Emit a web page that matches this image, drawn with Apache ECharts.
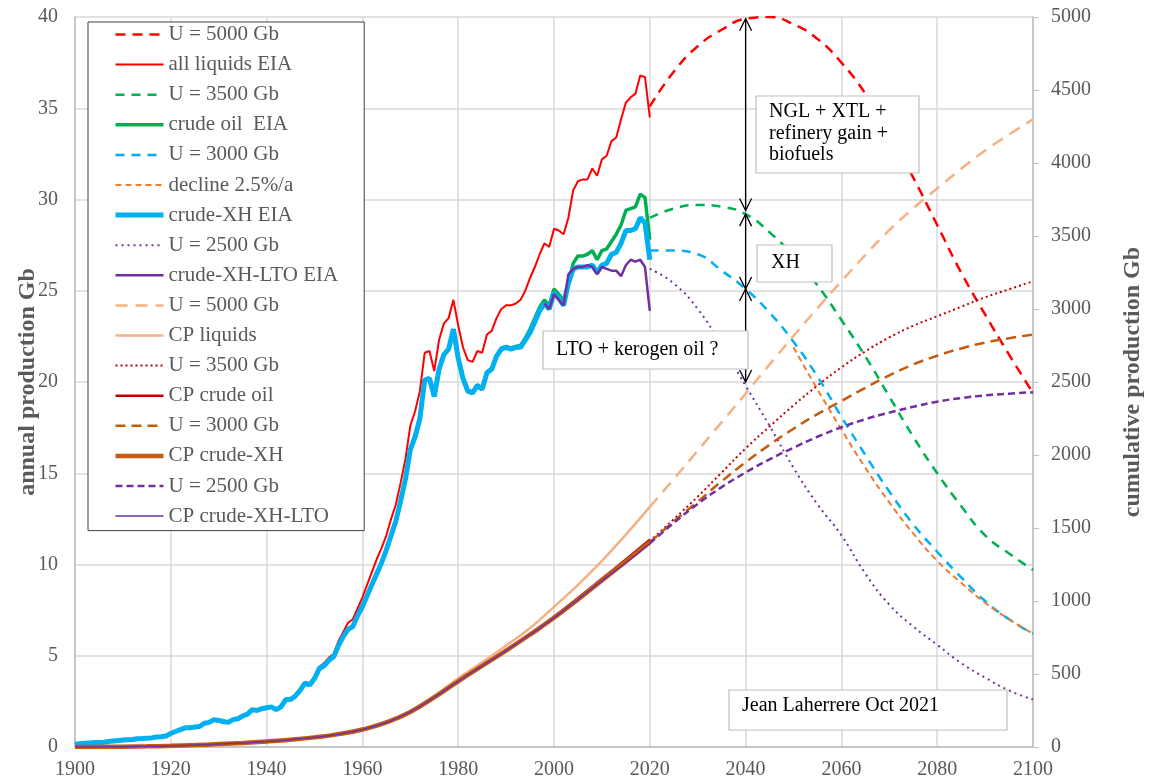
<!DOCTYPE html>
<html>
<head>
<meta charset="utf-8">
<script src="https://cdn.jsdelivr.net/npm/echarts@6/dist/echarts.min.js"></script>
<style>
  html, body { margin: 0; padding: 0; background: #ffffff; }
  #chart { width: 1153px; height: 780px; }
</style>
</head>
<body>
<div id="chart"></div>
<script>
// axis ticks
var xTicks = [1900, 2100, 20];
var leftTicks = [0, 40, 5];
var rightTicks = [0, 5000, 500];

// annual production (Gb), one value a year from 1900 to 2020
var allLiquids = [
  0.15, 0.18, 0.2, 0.22, 0.24, 0.25, 0.26, 0.3, 0.33, 0.35,
  0.38, 0.4, 0.41, 0.45, 0.46, 0.48, 0.5, 0.55, 0.56, 0.6,
  0.75, 0.85, 0.95, 1.05, 1.05, 1.1, 1.12, 1.3, 1.35, 1.5,
  1.45, 1.4, 1.35, 1.5, 1.55, 1.7, 1.8, 2.05, 2.0, 2.1,
  2.15, 2.2, 2.05, 2.2, 2.6, 2.6, 2.8, 3.1, 3.55, 3.45,
  3.85, 4.4, 4.6, 4.9, 5.1, 5.8, 6.3, 6.8, 7.0, 7.6,
  8.2, 8.9, 9.6, 10.3, 10.9, 11.6, 12.5, 13.3, 14.5, 15.8,
  17.6, 18.4, 19.5, 21.6, 21.7, 20.6, 22.3, 23.2, 23.5, 24.5,
  23.1, 21.9, 21.2, 21.1, 21.7, 21.6, 22.6, 22.8, 23.5, 24.0,
  24.2, 24.2, 24.3, 24.5, 25.0, 25.7, 26.3, 27.0, 27.6, 27.4,
  28.4, 28.3, 28.1, 29.0, 30.5, 31.0, 31.1, 31.1, 31.7, 31.3,
  32.2, 32.4, 33.2, 33.4, 34.4, 35.3, 35.6, 35.8, 36.8, 36.7,
  34.5
];
var crudeXH = [
  0.15, 0.18, 0.2, 0.22, 0.24, 0.25, 0.26, 0.3, 0.33, 0.35,
  0.38, 0.4, 0.41, 0.45, 0.46, 0.48, 0.5, 0.55, 0.56, 0.6,
  0.75, 0.85, 0.95, 1.05, 1.05, 1.1, 1.12, 1.3, 1.35, 1.5,
  1.45, 1.4, 1.35, 1.5, 1.55, 1.7, 1.8, 2.05, 2.0, 2.1,
  2.15, 2.2, 2.05, 2.2, 2.6, 2.6, 2.8, 3.1, 3.5, 3.4,
  3.75, 4.3, 4.45, 4.75, 4.95, 5.55, 6.05, 6.45, 6.6, 7.2,
  7.7, 8.3, 8.9, 9.5, 10.1, 10.8, 11.6, 12.4, 13.5, 14.7,
  16.3, 17.0, 18.0, 20.1, 20.2, 19.2, 20.7, 21.5, 21.8, 22.9,
  21.3, 20.2, 19.5, 19.4, 19.8, 19.6, 20.5, 20.7, 21.4, 21.8,
  21.9, 21.8, 21.9, 21.9, 22.3, 22.7, 23.3, 23.9, 24.3, 24.0,
  24.9, 24.6, 24.2, 25.4, 26.2, 26.3, 26.3, 26.3, 26.4, 26.0,
  26.4, 26.5, 27.0, 27.1, 27.6, 28.3, 28.3, 28.4, 29.0, 28.7,
  26.7
];
// from 1980
var crudeOil = [
  21.35, 20.25, 19.55, 19.45, 19.85, 19.65, 20.55, 20.75, 21.45, 21.85,
  21.95, 21.85, 21.95, 22.0, 22.4, 22.9, 23.5, 24.1, 24.5, 24.2,
  25.1, 24.8, 24.5, 25.4, 26.5, 26.9, 26.9, 27.0, 27.2, 26.7,
  27.2, 27.3, 27.7, 28.1, 28.6, 29.4, 29.5, 29.6, 30.3, 30.1,
  27.8
];
// from 1998
var crudeXHLTO = [
  24.3, 24.0,
  24.8, 24.5, 24.2, 25.9, 26.2, 26.3, 26.3, 26.4, 26.3, 25.9,
  26.3, 26.2, 26.1, 26.1, 25.8, 26.4, 26.7, 26.6, 26.7, 26.3,
  23.9
];

// annual forecasts, every 5 years from 2020 to 2100
var u5000 = [35.1, 37.0, 38.4, 39.3, 39.9, 40.0, 39.6, 38.8, 37.5, 35.8, 33.6, 31.2, 28.6, 26.0, 23.7, 21.5, 19.4];
var u3500 = [29.0, 29.5, 29.7, 29.6, 29.2, 28.2, 26.9, 25.3, 23.4, 21.4, 19.2, 17.0, 15.0, 13.2, 11.6, 10.6, 9.7];
var u3000 = [27.2, 27.2, 27.0, 26.1, 25.1, 23.8, 22.2, 20.3, 18.1, 16.0, 14.0, 12.2, 10.7, 9.3, 8.0, 7.0, 6.2];
var u2500 = [26.2, 25.4, 24.0, 22.0, 19.8, 17.6, 15.3, 13.3, 11.6, 9.5, 7.8, 6.6, 5.6, 4.6, 3.8, 3.1, 2.6];
// every 5 years from 2050 to 2100
var decline = [21.9, 19.6, 17.4, 15.3, 13.4, 11.7, 10.2, 9.0, 7.9, 7.0, 6.2];

// cumulative production (Gb), every 5 years from 1900 to 2020
var cpLiquids = [0, 1, 2.5, 4.5, 8, 13, 20, 28, 38, 50, 66, 88, 122, 170, 245, 350, 470, 580, 695, 815, 960, 1110, 1275, 1455, 1645];
var cpCrude = [0, 1, 2.5, 4.5, 8, 13, 20, 28, 38, 50, 66, 88, 120, 168, 240, 342, 453, 558, 664, 775, 892, 1020, 1152, 1285, 1420];
var cpCrudeXH = [0, 1, 2.5, 4.5, 8, 13, 20, 28, 38, 50, 66, 88, 120, 168, 240, 340, 450, 555, 660, 770, 885, 1010, 1140, 1270, 1402];
var cpCrudeXHLTO = [0, 1, 2.5, 4.5, 8, 13, 20, 28, 38, 50, 66, 88, 120, 168, 240, 340, 450, 555, 660, 770, 885, 1010, 1138, 1262, 1392];

// cumulative forecasts, every 5 years from 2020 to 2100
var cum5000 = [1645, 1835, 2030, 2225, 2420, 2620, 2815, 3005, 3190, 3370, 3540, 3690, 3825, 3960, 4085, 4195, 4300];
var cum3500 = [1410, 1560, 1715, 1880, 2045, 2195, 2340, 2475, 2600, 2710, 2805, 2885, 2950, 3015, 3080, 3135, 3190];
var cum3000 = [1402, 1545, 1680, 1820, 1950, 2070, 2180, 2280, 2370, 2460, 2545, 2620, 2680, 2730, 2770, 2800, 2825];
var cum2500 = [1395, 1535, 1665, 1780, 1880, 1970, 2050, 2125, 2190, 2245, 2290, 2330, 2365, 2390, 2408, 2420, 2430];

// double arrows at 2040: [year, from, to]
var arrows = [[2040, 39.9, 29.4], [2040, 29.2, 25.1], [2040, 25.1, 20.0]];

var FONT = "'Liberation Serif', 'Times New Roman', serif";
var GREY = "#595959";

function pairs(start, step, values) {
  return values.map(function (v, i) { return [start + i * step, v]; });
}

function line(name, data, color, width, type, yIndex, smooth) {
  return {
    name: name,
    type: "line",
    yAxisIndex: yIndex || 0,
    data: data,
    showSymbol: false,
    symbol: "none",
    smooth: smooth ? 0.5 : false,
    lineStyle: { color: color, width: width, type: type || "solid" },
    itemStyle: { color: color },
    emphasis: { disabled: true }
  };
}

var series = [
  line("U = 5000 Gb", pairs(2020, 5, u5000), "#FF0000", 2.5, [10, 7], 0, true),
  line("all liquids EIA", pairs(1900, 1, allLiquids), "#FF0000", 2),
  line("U = 3500 Gb", pairs(2020, 5, u3500), "#00B050", 2.5, [9, 7], 0, true),
  line("crude oil  EIA", pairs(1980, 1, crudeOil), "#00B050", 3.5),
  line("U = 3000 Gb", pairs(2020, 5, u3000), "#00B0F0", 2.5, [9, 7], 0, true),
  line("decline 2.5%/a", pairs(2050, 5, decline), "#ED7D31", 2, [6, 4], 0, true),
  line("crude-XH EIA", pairs(1900, 1, crudeXH), "#00B0F0", 5),
  line("U = 2500 Gb", pairs(2020, 5, u2500), "#7030A0", 2, [2, 4], 0, true),
  line("crude-XH-LTO EIA", pairs(1998, 1, crudeXHLTO), "#7030A0", 2.5),
  line("U = 5000 Gb#c", pairs(2020, 5, cum5000), "#F4B183", 2.5, [12, 8], 1, true),
  line("CP liquids", pairs(1900, 5, cpLiquids), "#F4B183", 2.5, "solid", 1, true),
  line("U = 3500 Gb#c", pairs(2020, 5, cum3500), "#C00000", 2, [2, 3], 1, true),
  line("CP crude oil", pairs(1900, 5, cpCrude), "#C00000", 2.5, "solid", 1, true),
  line("U = 3000 Gb#c", pairs(2020, 5, cum3000), "#C55A11", 2.5, [10, 6], 1, true),
  line("CP crude-XH", pairs(1900, 5, cpCrudeXH), "#C55A11", 4.5, "solid", 1, true),
  line("U = 2500 Gb#c", pairs(2020, 5, cum2500), "#7030A0", 2.5, [7, 4], 1, true),
  line("CP crude-XH-LTO", pairs(1900, 5, cpCrudeXHLTO), "#7030A0", 1.5, "solid", 1, true)
];

// legend items carry each series' own line width and dash
var legendItems = series.map(function (s) {
  return { name: s.name, lineStyle: { width: s.lineStyle.width, type: s.lineStyle.type, color: s.lineStyle.color } };
});

series.push({
  name: "arrows",
  type: "custom",
  xAxisIndex: 0,
  yAxisIndex: 0,
  z: 20,
  silent: true,
  encode: { x: 0, y: [1, 2] },
  data: arrows,
  renderItem: function (params, api) {
    var a = api.coord([api.value(0), api.value(1)]);
    var b = api.coord([api.value(0), api.value(2)]);
    var w = 6, h = 12;
    var st = { stroke: "#000000", lineWidth: 1.3, fill: null };
    return {
      type: "group",
      children: [
        { type: "line", shape: { x1: a[0], y1: a[1], x2: b[0], y2: b[1] }, style: st },
        { type: "polyline", shape: { points: [[a[0] - w, a[1] + h], [a[0], a[1]], [a[0] + w, a[1] + h]] }, style: st },
        { type: "polyline", shape: { points: [[b[0] - w, b[1] - h], [b[0], b[1]], [b[0] + w, b[1] - h]] }, style: st }
      ]
    };
  }
});

function box(x, y, w, h, lines, tx, ty) {
  return {
    type: "group",
    z: 100,
    children: [
      { type: "rect", shape: { x: x, y: y, width: w, height: h },
        style: { fill: "#ffffff", stroke: "#BFBFBF", lineWidth: 1.2 }, z: 100 },
      { type: "text", x: tx, y: ty, z: 101,
        style: { text: lines.join("\n"), font: "20px " + FONT, fill: "#000000",
                 lineHeight: 21.5, textVerticalAlign: "top" } }
    ]
  };
}

function plain(v) { return String(v); }

var chart = echarts.init(document.getElementById("chart"));
chart.setOption({
  animation: false,
  backgroundColor: "#ffffff",
  textStyle: { fontFamily: FONT },
  grid: { left: 75, right: 115, top: 17, bottom: 32 },
  legend: {
    data: legendItems,
    orient: "vertical",
    left: 88,
    top: 22,
    padding: [2, 26, 4, 25],
    itemWidth: 48,
    itemHeight: 20,
    itemGap: 9.1,
    backgroundColor: "#ffffff",
    borderColor: "#404040",
    borderWidth: 1,
    selectedMode: false,
    itemStyle: { opacity: 0 },
    textStyle: { fontFamily: FONT, fontSize: 21, color: GREY, lineHeight: 21 },
    formatter: function (name) { return name.replace("#c", ""); }
  },
  xAxis: {
    type: "value",
    min: xTicks[0],
    max: xTicks[1],
    interval: xTicks[2],
    axisLine: { show: true, lineStyle: { color: "#BFBFBF", width: 1.5 } },
    axisTick: { show: false },
    splitLine: { show: true, lineStyle: { color: "#D9D9D9", width: 1.5 } },
    axisLabel: { fontFamily: FONT, fontSize: 20, color: GREY, margin: 13, formatter: plain }
  },
  yAxis: [
    {
      type: "value",
      min: leftTicks[0],
      max: leftTicks[1],
      interval: leftTicks[2],
      name: "annual production Gb",
      nameLocation: "middle",
      nameRotate: 90,
      nameGap: 35,
      nameMoveOverlap: false,
      nameTextStyle: { fontFamily: FONT, fontSize: 24, fontWeight: "bold", color: GREY },
      axisLine: { show: true, lineStyle: { color: "#BFBFBF", width: 1.5 } },
      axisTick: { show: false },
      splitLine: { show: true, lineStyle: { color: "#D9D9D9", width: 1.5 } },
      axisLabel: { fontFamily: FONT, fontSize: 20, color: GREY, margin: 17, formatter: plain }
    },
    {
      type: "value",
      position: "right",
      min: rightTicks[0],
      max: rightTicks[1],
      interval: rightTicks[2],
      name: "cumulative production Gb",
      nameLocation: "middle",
      nameRotate: 90,
      nameGap: 88,
      nameMoveOverlap: false,
      nameTextStyle: { fontFamily: FONT, fontSize: 24, fontWeight: "bold", color: GREY },
      axisLine: { show: true, lineStyle: { color: "#BFBFBF", width: 1.5 } },
      axisTick: { show: true, length: 6, lineStyle: { color: "#BFBFBF" } },
      splitLine: { show: false },
      axisLabel: { fontFamily: FONT, fontSize: 20, color: GREY, margin: 18, formatter: plain }
    }
  ],
  graphic: [
    box(756, 96, 163, 77, ["NGL + XTL +", "refinery gain +", "biofuels"], 769, 101),
    box(757, 245, 75, 37, ["XH"], 771, 252),
    box(543, 331, 205, 38, ["LTO + kerogen oil ?"], 556, 339),
    box(729, 690, 278, 40, ["Jean Laherrere Oct 2021"], 742, 695)
  ],
  series: series
});
</script>
</body>
</html>
